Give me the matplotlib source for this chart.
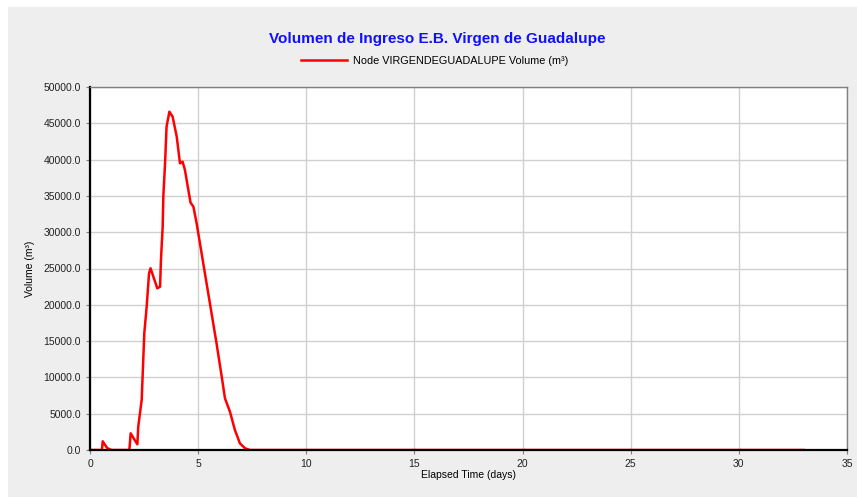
import matplotlib.pyplot as plt
import numpy as np

# hydrograph (days, m3)
days = [0.0, 0.55, 0.59, 0.65, 0.8, 1.0, 1.82, 1.88, 2.0, 2.19, 2.23, 2.39, 2.51, 2.62,
        2.73, 2.80, 2.93, 3.11, 3.24, 3.28, 3.36, 3.39, 3.47, 3.54, 3.67, 3.82, 4.01,
        4.16, 4.28, 4.39, 4.52, 4.65, 4.78, 4.93, 5.16, 5.39, 5.62, 5.85, 6.09, 6.24,
        6.47, 6.70, 6.93, 7.17, 7.4, 33.0]
volume = [0, 0, 1200, 900, 250, 0, 0, 2300, 1700, 780, 3200, 6900, 16070, 19740,
          24340, 25030, 23870, 22270, 22500, 26170, 30760, 34890, 39490, 44530, 46600,
          45910, 43160, 39490, 39710, 38570, 36270, 34070, 33520, 31230, 27090, 22960,
          18830, 14700, 10100, 7120, 5280, 2750, 920, 230, 0, 0]

xticks = [0, 5, 10, 15, 20, 25, 30, 35]
yticks = np.arange(0, 50001, 5000)

plt.rc("font", family="Liberation Sans")

fig = plt.figure(figsize=(8.57, 4.97), dpi=100, facecolor="white")
# grey panel, leaving a thin white strip on the top and left
fig.patches.append(plt.Rectangle((8/857, 0), 1, 1 - 7/497, transform=fig.transFigure,
                                 facecolor="#eeeeee", edgecolor="none", zorder=-10))

ax = fig.add_axes([90/857, 47/497, 757/857, 363/497])
ax.set_facecolor("white")

ax.plot(days, volume, color="#ff0000", lw=1.8, label="Node VIRGENDEGUADALUPE Volume (m³)")

ax.set_xlim(0, 35)
ax.set_ylim(0, 50000)
ax.set_xticks(xticks)
ax.set_yticks(yticks)
ax.set_yticklabels(["%.1f" % v for v in yticks])
ax.tick_params(labelsize=7.5, length=3, color="#808080", labelcolor="#222222")
ax.grid(True, color="#d0d0d0", lw=1)
ax.set_axisbelow(True)

for s in ["left", "bottom"]:
    ax.spines[s].set_color("black")
    ax.spines[s].set_linewidth(1.6)
for s in ["top", "right"]:
    ax.spines[s].set_color("#808080")
    ax.spines[s].set_linewidth(1)

ax.set_xlabel("Elapsed Time (days)", fontsize=7.5, labelpad=1)
ax.set_ylabel("Volume (m³)", fontsize=7.5, labelpad=6)

fig.text(437/857, 1 - 39/497, "Volumen de Ingreso E.B. Virgen de Guadalupe", color="#1010ff",
         fontsize=11, fontweight="bold", ha="center", va="center")
leg = fig.legend(loc="center", bbox_to_anchor=(435/857, 1 - 61/497), frameon=False,
                 fontsize=7.8, handlelength=4.2, handletextpad=0.6)

fig.savefig("out.png", dpi=100, facecolor=fig.get_facecolor())
plt.close()
